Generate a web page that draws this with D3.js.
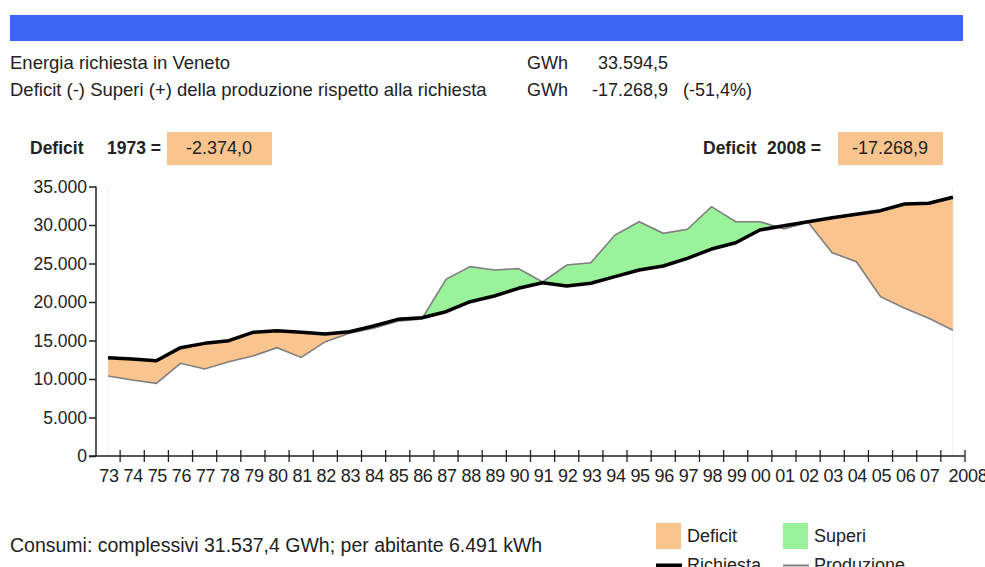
<!DOCTYPE html>
<html>
<head>
<meta charset="utf-8">
<script src="https://cdn.jsdelivr.net/npm/d3@7"></script>
<style>
  body { margin: 0; background: #fff; }
  svg text { font-family: "Liberation Sans", Arial, sans-serif; fill: #222; }
</style>
</head>
<body>
<div id="chart"></div>
<script>
"use strict";

// anni 1973 - 2008
var anni = d3.range(1973, 2009);

var richiesta = [12770, 12600, 12380, 14070, 14630, 14980, 16060, 16270, 16060, 15840,
  16140, 16880, 17750, 17960, 18740, 20040, 20780, 21780, 22500, 22080,
  22430, 23290, 24160, 24680, 25670, 26880, 27700, 29350, 29900, 30430,
  30950, 31390, 31860, 32730, 32820, 33594.5];

var produzione = [10396, 9870, 9440, 12040, 11300, 12250, 12990, 14070, 12800, 14850,
  15950, 16600, 17500, 17800, 22950, 24590, 24160, 24330, 22600, 24800,
  25100, 28700, 30430, 28920, 29440, 32380, 30430, 30430, 29500, 30350,
  26400, 25230, 20690, 19180, 17880, 16325.6];

var yTicks = [0, 5000, 10000, 15000, 20000, 25000, 30000, 35000];
var xLabels = anni.map(function(a){ return a === 2008 ? "2008" : String(a).slice(2); });

var headerRows = [
  ["Energia richiesta in Veneto", "33.594,5", ""],
  ["Deficit (-) Superi (+) della produzione rispetto alla richiesta", "-17.268,9", "(-51,4%)"]
];

var width = 985;
var height = 567;
var orange = "#fac48f";
var green = "#9af29a";

var loc = d3.formatLocale({decimal: ",", thousands: ".", grouping: [3], currency: ["", ""], minus: "-"});
var fmt = loc.format(",");

var svg = d3.select("#chart").append("svg")
  .attr("width", width)
  .attr("height", height);

// barra blu in alto
svg.append("rect")
  .attr("x", 10).attr("y", 15)
  .attr("width", 953).attr("height", 26)
  .attr("fill", "#3c66f2");

headerRows.forEach(function(r, i){
  var yy = 69 + i * 27;
  svg.append("text").attr("x", 10).attr("y", yy).attr("font-size", 18.5).text(r[0]);
  svg.append("text").attr("x", 527).attr("y", yy).attr("font-size", 18).text("GWh");
  svg.append("text").attr("x", 668).attr("y", yy).attr("font-size", 18)
    .attr("text-anchor", "end").text(r[1]);
  svg.append("text").attr("x", 683).attr("y", yy).attr("font-size", 18).text(r[2]);
});

// deficit inizio / fine
var deficitStart = produzione[0] - richiesta[0];
var deficitEnd = produzione[anni.length - 1] - richiesta[anni.length - 1];

function deficitBox(xLabel, xAnno, anno, xBox, val){
  svg.append("text").attr("x", xLabel).attr("y", 154)
    .attr("font-size", 17.5).attr("font-weight", "bold").text("Deficit");
  svg.append("text").attr("x", xAnno).attr("y", 154)
    .attr("font-size", 17.5).attr("font-weight", "bold").text(anno + " =");
  svg.append("rect").attr("x", xBox).attr("y", 132)
    .attr("width", 105).attr("height", 33).attr("fill", orange);
  svg.append("text").attr("x", xBox + 52).attr("y", 154)
    .attr("font-size", 18).attr("text-anchor", "middle")
    .text(loc.format(",.1f")(val));
}
deficitBox(30, 107, 1973, 167, deficitStart);
deficitBox(703, 767, 2008, 838, deficitEnd);

// scale
var x = d3.scaleBand().domain(anni).range([96, 965]).padding(0);
var y = d3.scaleLinear().domain([0, 35000]).range([456, 186.5]);
var cx = function(i){ return x(anni[i]) + x.bandwidth() / 2; };

var dati = anni.map(function(a, i){ return {anno: a, r: richiesta[i], p: produzione[i]}; });

var defs = svg.append("defs");
defs.append("clipPath").attr("id", "sopra").append("path")
  .attr("d", d3.area()
    .x(function(d, i){ return cx(i); })
    .y0(0)
    .y1(function(d){ return y(d.r); })(dati));
defs.append("clipPath").attr("id", "sotto").append("path")
  .attr("d", d3.area()
    .x(function(d, i){ return cx(i); })
    .y0(function(d){ return y(d.r); })
    .y1(height)(dati));

var tra = d3.area()
  .x(function(d, i){ return cx(i); })
  .y0(function(d){ return y(d.p); })
  .y1(function(d){ return y(d.r); });

// linee verticali tenui
[0, anni.length - 1].forEach(function(i){
  svg.append("line")
    .attr("x1", cx(i)).attr("x2", cx(i))
    .attr("y1", y(35000)).attr("y2", y(0))
    .attr("stroke", "#f0f0f0").attr("stroke-width", 1);
});

svg.append("path").datum(dati).attr("d", tra)
  .attr("fill", green).attr("clip-path", "url(#sopra)");
svg.append("path").datum(dati).attr("d", tra)
  .attr("fill", orange).attr("clip-path", "url(#sotto)");

svg.append("path").datum(dati)
  .attr("d", d3.line().x(function(d, i){ return cx(i); }).y(function(d){ return y(d.p); }))
  .attr("fill", "none").attr("stroke", "#7f7f7f").attr("stroke-width", 1.6);

svg.append("path").datum(dati)
  .attr("d", d3.line().x(function(d, i){ return cx(i); }).y(function(d){ return y(d.r); }))
  .attr("fill", "none").attr("stroke", "#000").attr("stroke-width", 3.5)
  .attr("stroke-linejoin", "round");

// asse y
var yAxis = svg.append("g").attr("transform", "translate(96,0)")
  .call(d3.axisLeft(y).tickValues(yTicks).tickFormat(fmt).tickSize(7).tickPadding(2));
yAxis.select(".domain").attr("stroke", "#222").attr("stroke-width", 1.5).attr("d", "M0," + y(35000) + "V" + y(0));
yAxis.selectAll(".tick line").attr("stroke", "#222").attr("stroke-width", 1.5);
yAxis.selectAll("text").attr("font-size", 17.5).attr("font-family", "Liberation Sans, Arial, sans-serif").attr("fill", "#222");

// asse x
var xg = svg.append("g");
xg.append("line").attr("x1", 89).attr("x2", 965).attr("y1", y(0)).attr("y2", y(0))
  .attr("stroke", "#222").attr("stroke-width", 1.5);
xg.selectAll("line.tk").data(anni).enter().append("line")
  .attr("class", "tk")
  .attr("x1", function(d){ return x(d) + x.bandwidth(); })
  .attr("x2", function(d){ return x(d) + x.bandwidth(); })
  .attr("y1", y(0) - 6).attr("y2", y(0) + 6)
  .attr("stroke", "#222").attr("stroke-width", 1.3);
xg.selectAll("text").data(anni).enter().append("text")
  .attr("x", function(d, i){ return d === 2008 ? x(d) + x.bandwidth() + 3 : x(d) + x.bandwidth() / 2 + 1; })
  .attr("y", 482)
  .attr("text-anchor", "middle")
  .attr("font-size", 18)
  .attr("letter-spacing", -0.3)
  .text(function(d, i){ return xLabels[i]; });

// nota consumi
svg.append("text").attr("x", 10).attr("y", 552).attr("font-size", 19.5)
  .text("Consumi: complessivi 31.537,4 GWh; per abitante 6.491 kWh");

// legenda
var legenda = [
  {t: "Deficit", x: 656, tipo: "box", c: orange},
  {t: "Superi", x: 783, tipo: "box", c: green},
  {t: "Richiesta", x: 656, tipo: "line", c: "#000", w: 4},
  {t: "Produzione", x: 783, tipo: "line", c: "#7f7f7f", w: 2}
];
legenda.forEach(function(l){
  if(l.tipo === "box"){
    svg.append("rect").attr("x", l.x).attr("y", 523).attr("width", 25).attr("height", 26).attr("fill", l.c);
    svg.append("text").attr("x", l.x + 31).attr("y", 542).attr("font-size", 18).text(l.t);
  }
  else{
    svg.append("line").attr("x1", l.x).attr("x2", l.x + 26).attr("y1", 565.5).attr("y2", 565.5)
      .attr("stroke", l.c).attr("stroke-width", l.w);
    svg.append("text").attr("x", l.x + 31).attr("y", 571).attr("font-size", 18).text(l.t);
  }
});
</script>
</body>
</html>
